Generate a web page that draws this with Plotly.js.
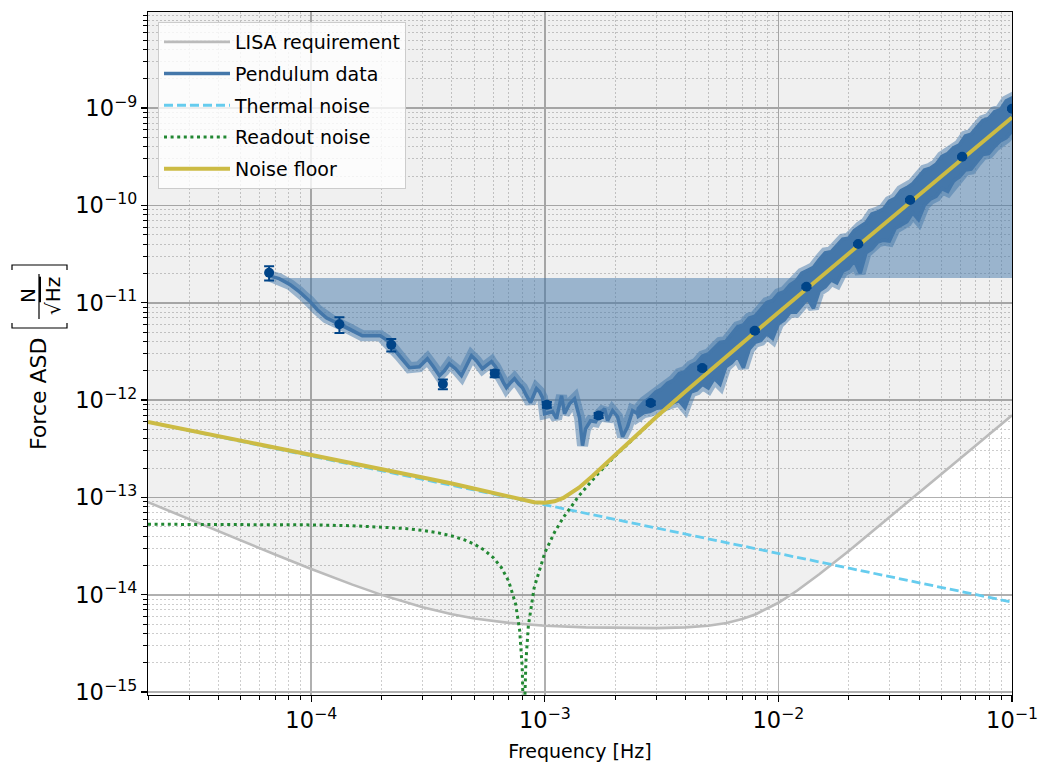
<!DOCTYPE html>
<html>
<head>
<meta charset="utf-8">
<script src="https://cdn.plot.ly/plotly-3.0.1.min.js"></script>
<style>
  html, body { margin: 0; padding: 0; background: #ffffff; }
  #chart { width: 1041px; height: 769px; }
</style>
</head>
<body>
<div id="chart"></div>
<script>
// ---- LISA single-test-mass force requirement ----
const lisaFreq = [2e-5, 3e-5, 5e-5, 7e-5, 1e-4, 1.5e-4, 2e-4, 3e-4, 4e-4, 5e-4, 7e-4, 1e-3,
  1.5e-3, 2e-3, 3e-3, 4e-3, 5e-3, 6e-3, 7e-3, 8e-3, 1e-2, 1.2e-2, 1.5e-2, 2e-2, 3e-2, 5e-2, 7e-2, 1e-1];
const lisaASD = [8.93e-14, 5.96e-14, 3.60e-14, 2.59e-14, 1.84e-14, 1.27e-14, 9.97e-15, 7.43e-15,
  6.31e-15, 5.71e-15, 5.14e-15, 4.80e-15, 4.62e-15, 4.56e-15, 4.54e-15, 4.62e-15, 4.80e-15,
  5.13e-15, 5.63e-15, 6.31e-15, 8.27e-15, 1.098e-14, 1.63e-14, 2.82e-14, 6.29e-14, 1.74e-13,
  3.41e-13, 6.97e-13];
// upper edge of the shaded "above requirement" band
const shadeTop = 1e-7;

// ---- Pendulum measurement: smooth low-frequency part ----
const pendFreq = [6.61e-5, 7.29e-5, 8.13e-5, 8.88e-5, 9.80e-5, 1.061e-4, 1.160e-4, 1.255e-4, 1.318e-4,
  1.455e-4, 1.654e-4, 1.808e-4, 1.976e-4, 2.097e-4, 2.224e-4, 2.383e-4, 2.630e-4, 2.904e-4, 3.142e-4,
  3.333e-4, 3.538e-4, 3.715e-4, 3.903e-4, 4.141e-4, 4.394e-4, 4.617e-4, 4.851e-4, 5.095e-4, 5.407e-4,
  5.680e-4, 5.908e-4, 6.146e-4, 6.393e-4, 6.651e-4, 6.851e-4, 7.127e-4, 7.413e-4, 7.711e-4, 8.022e-4,
  8.344e-4, 8.681e-4, 8.941e-4, 9.21e-4, 9.49e-4, 9.77e-4, 9.97e-4, 1.037e-3, 1.079e-3, 1.122e-3,
  1.156e-3, 1.179e-3, 1.214e-3, 1.276e-3, 1.340e-3, 1.408e-3, 1.450e-3, 1.494e-3, 1.569e-3, 1.649e-3,
  1.715e-3, 1.802e-3, 1.856e-3, 1.950e-3, 2.048e-3, 2.152e-3, 2.261e-3, 2.375e-3, 2.496e-3];
const pendASD = [1.89e-11, 1.77e-11, 1.53e-11, 1.30e-11, 1.05e-11, 8.47e-12, 7.01e-12, 6.38e-12, 6.08e-12,
  5.41e-12, 4.58e-12, 4.58e-12, 4.58e-12, 4.17e-12, 3.53e-12, 2.85e-12, 2.15e-12, 2.20e-12, 2.66e-12,
  2.20e-12, 1.78e-12, 2.00e-12, 2.36e-12, 2.10e-12, 1.78e-12, 2.25e-12, 2.85e-12, 2.54e-12, 2.10e-12,
  2.31e-12, 2.48e-12, 2.20e-12, 1.87e-12, 1.51e-12, 1.34e-12, 1.51e-12, 1.66e-12, 1.47e-12, 1.34e-12,
  1.11e-12, 9.39e-13, 1.11e-12, 1.31e-12, 1.22e-12, 1.06e-12, 7.24e-13, 7.41e-13, 7.59e-13, 6.43e-13,
  8.74e-13, 1.11e-12, 7.24e-13, 9.17e-13, 1.03e-12, 6.58e-13, 3.40e-13, 5.07e-13, 6.13e-13, 5.99e-13,
  7.24e-13, 8.14e-13, 6.13e-13, 7.77e-13, 6.74e-13, 4.20e-13, 5.32e-13, 7.77e-13, 7.24e-13];

// ---- Pendulum measurement: noisy high-frequency part (upper / lower envelope) ----
const noiseFreq = [2.512e-3, 2.661e-3, 2.818e-3, 2.985e-3, 3.162e-3, 3.350e-3, 3.548e-3, 3.758e-3, 3.981e-3,
  4.217e-3, 4.467e-3, 4.732e-3, 5.012e-3, 5.309e-3, 5.623e-3, 5.957e-3, 6.310e-3, 6.683e-3, 7.079e-3,
  7.499e-3, 7.943e-3, 8.414e-3, 8.913e-3, 9.441e-3, 1.000e-2, 1.059e-2, 1.122e-2, 1.189e-2, 1.259e-2,
  1.334e-2, 1.413e-2, 1.496e-2, 1.585e-2, 1.679e-2, 1.778e-2, 1.884e-2, 1.995e-2, 2.113e-2, 2.239e-2,
  2.371e-2, 2.512e-2, 2.661e-2, 2.818e-2, 2.985e-2, 3.162e-2, 3.350e-2, 3.548e-2, 3.758e-2, 3.981e-2,
  4.217e-2, 4.467e-2, 4.732e-2, 5.012e-2, 5.309e-2, 5.623e-2, 5.957e-2, 6.310e-2, 6.683e-2, 7.079e-2,
  7.499e-2, 7.943e-2, 8.414e-2, 8.913e-2, 9.441e-2, 1.000e-1];
const noiseHi = [8.18e-13, 9.62e-13, 1.054e-12, 1.211e-12, 1.297e-12, 1.489e-12, 1.596e-12, 1.875e-12, 1.963e-12,
  2.254e-12, 2.415e-12, 2.838e-12, 2.972e-12, 3.412e-12, 3.917e-12, 4.009e-12, 4.819e-12, 5.662e-12, 5.929e-12,
  6.966e-12, 7.295e-12, 8.570e-12, 1.007e-11, 1.054e-11, 1.239e-11, 1.297e-11, 1.524e-11, 1.671e-11, 2.009e-11,
  2.153e-11, 2.307e-11, 2.773e-11, 3.258e-11, 3.334e-11, 3.828e-11, 4.498e-11, 4.603e-11, 5.534e-11, 6.067e-11,
  6.653e-11, 8.185e-11, 8.570e-11, 9.183e-11, 1.104e-10, 1.183e-10, 1.422e-10, 1.524e-10, 1.671e-10, 1.963e-10,
  2.307e-10, 2.415e-10, 2.649e-10, 3.184e-10, 3.412e-10, 3.917e-10, 4.198e-10, 5.164e-10, 5.408e-10, 6.353e-10,
  7.464e-10, 7.816e-10, 9.183e-10, 9.616e-10, 1.183e-9, 1.268e-9];
const noiseLo = [6.81e-13, 7.46e-13, 7.64e-13, 8.18e-13, 8.38e-13, 8.77e-13, 9.40e-13, 9.84e-13, 8.38e-13,
  1.211e-12, 1.268e-12, 1.455e-12, 1.327e-12, 1.671e-12, 1.455e-12, 2.203e-12, 2.415e-12, 2.838e-12, 2.153e-12,
  3.334e-12, 3.917e-12, 4.102e-12, 4.819e-12, 4.295e-12, 6.067e-12, 6.653e-12, 8.00e-12, 8.00e-12, 9.40e-12,
  1.104e-11, 8.77e-12, 1.327e-11, 1.455e-11, 1.710e-11, 1.596e-11, 2.104e-11, 2.254e-11, 2.710e-11, 2.009e-11,
  3.258e-11, 3.573e-11, 4.198e-11, 4.395e-11, 4.295e-11, 5.794e-11, 6.353e-11, 6.81e-11, 8.38e-11, 7.129e-11,
  1.007e-10, 1.156e-10, 1.239e-10, 1.489e-10, 1.390e-10, 1.791e-10, 1.963e-10, 2.307e-10, 2.360e-10, 2.838e-10,
  3.334e-10, 3.412e-10, 4.009e-10, 4.603e-10, 4.932e-10, 5.794e-10];

// reference level the measurement is shaded against
const fillLevel = 1.8e-11;

// ---- Binned averages with uncertainties ----
const binFreq = [6.6e-5, 1.32e-4, 2.2e-4, 3.66e-4, 6.1e-4, 1.02e-3, 1.70e-3, 2.84e-3, 4.72e-3, 7.92e-3,
  1.318e-2, 2.195e-2, 3.66e-2, 6.12e-2, 1.0e-1];
const binASD = [2.03e-11, 6.0e-12, 3.7e-12, 1.46e-12, 1.87e-12, 8.95e-13, 6.95e-13, 9.32e-13, 2.13e-12, 5.16e-12,
  1.46e-11, 4.01e-11, 1.136e-10, 3.16e-10, 9.85e-10];
const binErr = [3.4e-12, 1.1e-12, 5.5e-13, 1.7e-13, 1.5e-13, 6e-14, 4e-14, 4e-14, 8e-14, 1.5e-13,
  4e-13, 1e-12, 3e-12, 8e-12, 2.5e-11];

// ---- Noise model ----
const thermFreq = [2e-5, 1e-4, 1e-3, 1e-2, 1e-1];
const thermASD = [5.94e-13, 2.66e-13, 8.4e-14, 2.66e-14, 8.4e-15];

const readFreq = [2e-5, 5e-5, 1e-4, 1.5e-4, 2e-4, 2.5e-4, 3e-4, 3.5e-4, 4e-4, 4.5e-4, 5e-4, 5.5e-4, 6e-4,
  6.5e-4, 7e-4, 7.5e-4, 7.8e-4, 8.0e-4, 8.1e-4, 8.12e-4, 8.16e-4, 8.2e-4, 8.3e-4, 8.5e-4, 9e-4, 1e-3,
  1.1e-3, 1.2e-3, 1.4e-3, 1.7e-3, 2e-3, 3e-3, 5e-3, 1e-2, 3e-2, 1e-1];
const readASD = [5.30e-14, 5.28e-14, 5.22e-14, 5.12e-14, 4.98e-14, 4.80e-14, 4.58e-14, 4.32e-14, 4.02e-14,
  3.68e-14, 3.30e-14, 2.88e-14, 2.42e-14, 1.92e-14, 1.38e-14, 8.0e-15, 4.33e-15, 1.8e-15, 5.1e-16, 2.5e-16,
  2.7e-16, 7.9e-16, 2.1e-15, 4.8e-15, 1.18e-14, 2.7e-14, 4.38e-14, 6.22e-14, 1.038e-13, 1.78e-13, 2.67e-13,
  6.67e-13, 1.95e-12, 7.95e-12, 7.2e-11, 8e-10];

const floorFreq = [2e-5, 5e-5, 1e-4, 2e-4, 3e-4, 4e-4, 5e-4, 6e-4, 7e-4, 8e-4, 8.5e-4, 9e-4, 1e-3, 1.1e-3,
  1.2e-3, 1.3e-3, 1.4e-3, 1.6e-3, 1.8e-3, 2e-3, 2.5e-3, 3e-3, 4e-3, 5e-3, 7e-3, 1e-2, 2e-2, 5e-2, 1e-1];
const floorASD = [5.96e-13, 3.79e-13, 2.71e-13, 1.94e-13, 1.60e-13, 1.39e-13, 1.23e-13, 1.11e-13, 1.013e-13,
  9.39e-14, 9.12e-14, 8.93e-14, 8.82e-14, 9.13e-14, 9.87e-14, 1.104e-13, 1.258e-13, 1.657e-13, 2.155e-13,
  2.735e-13, 4.50e-13, 6.69e-13, 1.228e-12, 1.95e-12, 3.87e-12, 7.95e-12, 3.2e-11, 2.0e-10, 8.0e-10];

// ---- Derived paths ----
const last = a => a[a.length - 1];
const rev = a => a.slice().reverse();
// lower boundary of the shaded area between measurement and reference level
const edgeFreq = pendFreq.concat(noiseFreq);
const edgeASD = pendASD.concat(noiseLo);
// closed outline of the measurement: smooth line, then noisy envelope, and back
const outlineFreq = pendFreq.concat(noiseFreq, rev(noiseFreq), rev(pendFreq));
const outlineASD = pendASD.concat(noiseHi, rev(noiseLo), rev(pendASD));

const C = {
  lisa: '#bbbbbb', pend: '#4477aa', band: 'rgba(68,119,170,0.5)', shade: 'rgba(68,119,170,0.5)',
  bins: '#004488', thermal: '#66ccee', readout: '#228833', floor: '#ccbb44'
};
const FONT = 'DejaVu Sans, sans-serif';

const traces = [
  { x: [lisaFreq[0], last(lisaFreq)], y: [shadeTop, shadeTop], mode: 'lines',
    line: { width: 0 }, showlegend: false, hoverinfo: 'skip' },
  { x: lisaFreq, y: lisaASD, mode: 'lines', fill: 'tonexty', fillcolor: 'rgba(0,0,0,0.059)',
    line: { width: 0 }, showlegend: false, hoverinfo: 'skip' },
  { x: lisaFreq, y: lisaASD, mode: 'lines', name: 'LISA requirement', legendgroup: 'g1',
    line: { color: C.lisa, width: 2.6 } },
  { x: [edgeFreq[0], last(edgeFreq)], y: [fillLevel, fillLevel], mode: 'lines',
    line: { width: 0 }, showlegend: false, hoverinfo: 'skip' },
  { x: edgeFreq, y: edgeASD, mode: 'lines', fill: 'tonexty', fillcolor: C.shade,
    line: { width: 0 }, showlegend: false, hoverinfo: 'skip' },
  { x: outlineFreq, y: outlineASD, mode: 'lines', fill: 'toself', fillcolor: C.band,
    line: { color: C.band, width: 11 }, showlegend: false, hoverinfo: 'skip' },
  { x: outlineFreq, y: outlineASD, mode: 'lines', fill: 'toself', fillcolor: C.pend,
    line: { color: C.pend, width: 3.5 }, showlegend: false },
  { x: [null], y: [null], mode: 'lines', name: 'Pendulum data', legendgroup: 'g2',
    line: { color: C.pend, width: 3.5 } },
  { x: thermFreq, y: thermASD, mode: 'lines', name: 'Thermal noise', legendgroup: 'g3',
    line: { color: C.thermal, width: 2.8, dash: '9px,4px' } },
  { x: readFreq, y: readASD, mode: 'lines', name: 'Readout noise', legendgroup: 'g4',
    line: { color: C.readout, width: 3, dash: '3px,3.6px' } },
  { x: floorFreq, y: floorASD, mode: 'lines', name: 'Noise floor', legendgroup: 'g5',
    line: { color: C.floor, width: 4 } },
  { x: binFreq, y: binASD, mode: 'markers', showlegend: false,
    marker: { color: C.bins, size: 10 },
    error_y: { type: 'data', array: binErr, color: C.bins, thickness: 2, width: 5 } }
];

const axisCommon = {
  type: 'log', dtick: 1, exponentformat: 'power', showexponent: 'all',
  ticks: 'outside', ticklen: 6, tickwidth: 1.2, tickcolor: '#000',
  showline: true, linecolor: '#000', linewidth: 1.2, mirror: true,
  showgrid: true, gridcolor: '#b0b0b0', gridwidth: 1.6,
  tickfont: { family: FONT, size: 18, color: '#000' },
  minor: { dtick: 'D1', ticks: 'outside', ticklen: 3.5, tickwidth: 1, tickcolor: '#000',
           showgrid: true, gridcolor: '#cdcdcd', gridwidth: 1, griddash: '1.5px,2.5px' }
};

// pixel -> paper helpers for the y-axis label block (plot area 148..1012 x 12..695)
const px = X => (X - 148) / 864;
const py = Y => (695 - Y) / 683;

const layout = {
  width: 1041, height: 769,
  margin: { l: 148, r: 29, t: 12, b: 74 },
  paper_bgcolor: '#ffffff', plot_bgcolor: '#ffffff',
  font: { family: FONT, size: 19, color: '#000' },
  showlegend: true,
  legend: {
    x: px(158), y: py(22), xanchor: 'left', yanchor: 'top',
    traceorder: 'grouped', tracegroupgap: 4,
    bgcolor: 'rgba(255,255,255,0.8)', bordercolor: '#cccccc', borderwidth: 1,
    font: { family: FONT, size: 19, color: '#000' }, itemwidth: 66
  },
  xaxis: Object.assign({}, axisCommon, {
    range: [-4.699, -1],
    title: { text: 'Frequency [Hz]', font: { family: FONT, size: 19, color: '#000' }, standoff: 12 }
  }),
  yaxis: Object.assign({}, axisCommon, { range: [-15.03, -8.013] }),
  annotations: [
    { text: 'Force ASD', xref: 'paper', yref: 'paper', x: px(38), y: py(394), textangle: -90,
      showarrow: false, xanchor: 'center', yanchor: 'middle', font: { family: FONT, size: 22, color: '#000' } },
    { text: 'N', xref: 'paper', yref: 'paper', x: px(28), y: py(296), textangle: -90,
      showarrow: false, xanchor: 'center', yanchor: 'middle', font: { family: FONT, size: 20, color: '#000' } },
    { text: '√<span style="text-decoration:overline">Hz</span>', xref: 'paper', yref: 'paper',
      x: px(53), y: py(296), textangle: -90,
      showarrow: false, xanchor: 'center', yanchor: 'middle', font: { family: FONT, size: 20, color: '#000' } }
  ],
  shapes: [
    { type: 'line', xref: 'paper', yref: 'paper', x0: px(39), x1: px(39), y0: py(319), y1: py(274),
      line: { color: '#000', width: 1.2 } },
    { type: 'path', xref: 'paper', yref: 'paper', line: { color: '#000', width: 1.2 },
      path: `M${px(12)},${py(323)} L${px(12)},${py(328)} L${px(67)},${py(328)} L${px(67)},${py(323)}` },
    { type: 'path', xref: 'paper', yref: 'paper', line: { color: '#000', width: 1.2 },
      path: `M${px(12)},${py(270)} L${px(12)},${py(265)} L${px(67)},${py(265)} L${px(67)},${py(270)}` }
  ]
};

Plotly.newPlot('chart', traces, layout, { displayModeBar: false, staticPlot: true });
</script>
</body>
</html>
